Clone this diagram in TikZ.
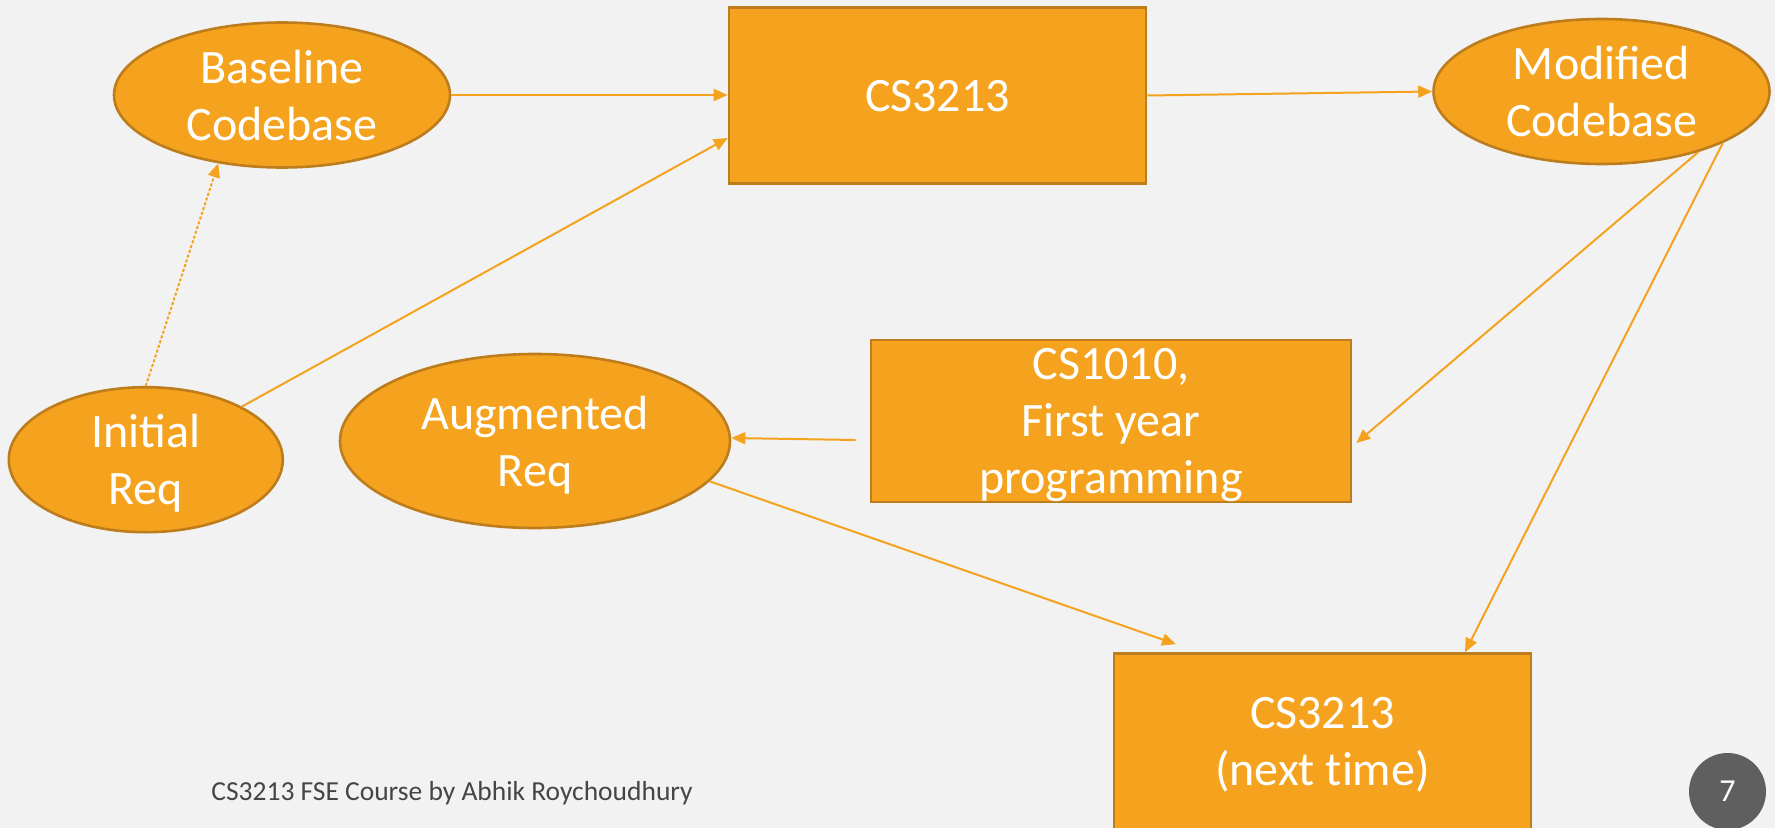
\documentclass[tikz,border=0pt]{standalone}
\usepackage{fontspec}
\setmainfont{Carlito}
\usetikzlibrary{arrows.meta,shapes.geometric,calc}
\definecolor{bg}{HTML}{F2F2F2}
\definecolor{orfill}{HTML}{F5A31E}
\definecolor{orline}{HTML}{BD7D1C}
\definecolor{arr}{HTML}{F5A31E}
\definecolor{footc}{HTML}{454545}
\definecolor{pgc}{HTML}{5F5F5F}
\begin{document}
\begin{tikzpicture}[x=0.5pt,y=-0.5pt,
  shapebase/.style={fill=orfill,draw=orline,line width=1.3pt,text=white,align=center,inner sep=0pt,font=\fontsize{24pt}{28.5pt}\selectfont,text depth=0pt},
  oval/.style={shapebase,ellipse},
  box/.style={shapebase,rectangle},
  link/.style={draw=arr,line width=1pt,-{Triangle[length=7pt,width=6pt]}},
  hint/.style={link,dash pattern=on 1.5pt off 1pt}
]
\useasboundingbox[fill=bg] (0,0) rectangle (1775,828);

\node[oval,minimum width=168pt,minimum height=72.5pt] (bc) at (282,95) {Baseline\\Codebase};
\node[box,minimum width=208.5pt,minimum height=88pt] (cs) at (937.5,95.5) {CS3213};
\node[oval,minimum width=168pt,minimum height=72.5pt] (mc) at (1601.5,91.5) {Modified\\Codebase};
\node[oval,minimum width=137pt,minimum height=72.5pt] (ir) at (145.8,459.7) {Initial\\Req};
\node[oval,minimum width=195pt,minimum height=87pt] (ar) at (535,441) {Augmented\\Req};
\node[box,minimum width=240pt,minimum height=81pt] (cb) at (1111,421) {CS1010,\\First year\\programming};
\node[box,minimum width=208.5pt,minimum height=88pt,font=\fontsize{24pt}{28.5pt}\selectfont\addfontfeature{Ligatures=NoCommon}] (cn) at (1322.5,741.5) {CS3213\\(next time)};

\node[anchor=base west,text=footc,font=\fontsize{13.75pt}{16pt}\selectfont,inner sep=0pt] (ft) at (211,800.5) {CS3213 FSE Course by Abhik Roychoudhury};
\node[circle,fill=pgc,minimum size=38.5pt,inner sep=0pt,text=white,font=\fontsize{16pt}{19pt}\selectfont] (pg) at (1727.5,791.5) {7};

\draw[link] (bc.east) -- (bc.east -| cs.west);
\draw[link] (ir) -- ([yshift=-21.25pt]cs.west);
\draw[hint] (ir.north) -- (bc.227);
\draw[link] (cs.east) -- (mc.west);
\draw[link] (mc.-32.4) -- ([xshift=2pt,yshift=-11pt]cb.east);
\draw[link] (mc.-23.2) -- ([xshift=71.25pt]cn.north);
\draw[link] ([xshift=-7pt,yshift=-9.5pt]cb.west) -- ([yshift=1.5pt]ar.east);
\draw[link] (ar.-13.4) -- ([xshift=-73.25pt,yshift=4pt]cn.north);
\end{tikzpicture}
\end{document}
